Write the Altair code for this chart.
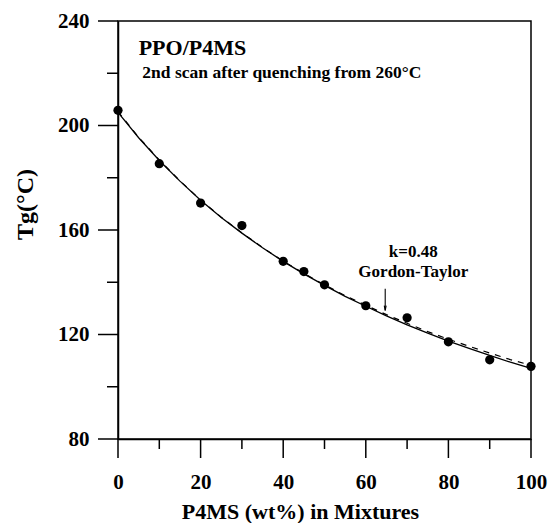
import altair as alt
import pandas as pd

# measured data points
p4ms_wt = [0, 10, 20, 30, 40, 45, 50, 60, 70, 80, 90, 100]
tg_measured = [205.8, 185.4, 170.3, 161.7, 148.0, 144.1, 139.0, 131.0, 126.4, 117.2, 110.3, 107.8]

# curves (solid fit and dashed Gordon-Taylor)
curve_x = [0, 5, 10, 15, 20, 25, 30, 35, 40, 45, 50, 55, 60, 65, 70, 75, 80, 85, 90, 95, 100]
curve_solid = [205.0, 195.3, 186.6, 178.7, 171.4, 164.8, 158.8, 153.2, 148.0, 143.2, 138.8,
               134.6, 130.8, 127.1, 123.7, 120.5, 117.5, 114.7, 112.0, 109.4, 107.0]
curve_dashed = [205.3, 195.5, 186.8, 178.8, 171.5, 164.9, 158.9, 153.3, 148.1, 143.4, 139.0,
                134.9, 131.2, 127.6, 124.3, 121.1, 118.2, 115.5, 112.9, 110.4, 108.2]

# axis ticks
x_major = [0, 20, 40, 60, 80, 100]
x_minor = [10, 30, 50, 70, 90]
y_major = [80, 120, 160, 200, 240]
y_minor = [100, 140, 180, 220]

# annotations
left_text = ["PPO/P4MS", "2nd scan after quenching from 260°C"]
left_x = [5.0, 5.9]
left_y = [226.9, 218.0]
left_size = [22, 17.5]
center_text = ["k=0.48", "Gordon-Taylor"]
center_x = [71.5, 71.5]
center_y = [149.6, 141.9]
center_size = [17, 17]
arrow_x = [64.7]
arrow_top = [137.5]
arrow_tip = [129.2]

FONT = "Liberation Serif"

pts = pd.DataFrame({"x": p4ms_wt, "y": tg_measured})
curve = pd.DataFrame({"x": curve_x, "solid": curve_solid, "dashed": curve_dashed})
ann_l = pd.DataFrame({"t": left_text, "x": left_x, "y": left_y, "s": left_size})
ann_c = pd.DataFrame({"t": center_text, "x": center_x, "y": center_y, "s": center_size})
arrow = pd.DataFrame({"x": arrow_x, "y": arrow_top, "y2": arrow_tip})
xmaj_df = pd.DataFrame({"x": x_major})
ymaj_df = pd.DataFrame({"y": y_major})
xmin_df = pd.DataFrame({"x": x_minor})
ymin_df = pd.DataFrame({"y": y_minor})

xscale = alt.Scale(domain=[0, 100], nice=False)
yscale = alt.Scale(domain=[80, 240], nice=False)

X = lambda f: alt.X(f, scale=xscale)
Y = lambda f: alt.Y(f, scale=yscale)

points = alt.Chart(pts).mark_circle(size=85, color="black", opacity=1).encode(
    x=alt.X("x:Q", scale=xscale,
            axis=alt.Axis(values=x_major, title="P4MS (wt%) in Mixtures",
                          ticks=False, tickSize=0, labelPadding=32)),
    y=alt.Y("y:Q", scale=yscale,
            axis=alt.Axis(values=y_major, title="Tg(°C)", ticks=False, tickSize=0,
                          labelPadding=29, labelAlign="right", labelBaseline="middle")),
)

solid = alt.Chart(curve).mark_line(color="black", strokeWidth=1.3).encode(
    x=X("x:Q"), y=Y("solid:Q"),
)

dashed = alt.Chart(curve).mark_line(color="black", strokeWidth=1.2, strokeDash=[6, 6]).encode(
    x=X("x:Q"), y=Y("dashed:Q"),
)

# outward tick marks (major and minor) drawn at the axis tick values
x_major_ticks = alt.Chart(xmaj_df).mark_rule(color="black", strokeWidth=1.5).encode(
    x=X("x:Q"), y=alt.value(418), y2=alt.value(437),
)
y_major_ticks = alt.Chart(ymaj_df).mark_rule(color="black", strokeWidth=1.5).encode(
    y=Y("y:Q"), x=alt.value(0), x2=alt.value(-20),
)
x_minor_ticks = alt.Chart(xmin_df).mark_rule(color="black", strokeWidth=1.5).encode(
    x=X("x:Q"), y=alt.value(418), y2=alt.value(428),
)
y_minor_ticks = alt.Chart(ymin_df).mark_rule(color="black", strokeWidth=1.5).encode(
    y=Y("y:Q"), x=alt.value(0), x2=alt.value(-11),
)

texts_l = alt.Chart(ann_l).mark_text(font=FONT, fontWeight="bold", color="black",
                                     baseline="alphabetic", align="left").encode(
    x=X("x:Q"), y=Y("y:Q"), text="t:N",
    size=alt.Size("s:Q", scale=None, legend=None),
)
texts_c = alt.Chart(ann_c).mark_text(font=FONT, fontWeight="bold", color="black",
                                     baseline="alphabetic", align="center").encode(
    x=X("x:Q"), y=Y("y:Q"), text="t:N",
    size=alt.Size("s:Q", scale=None, legend=None),
)

arrow_line = alt.Chart(arrow).mark_rule(color="black", strokeWidth=1.1).encode(
    x=X("x:Q"), y=Y("y:Q"), y2="y2:Q",
)
arrow_head = alt.Chart(arrow).mark_point(
    shape="M -0.35 -1.8 L 0 0 L 0.35 -1.8", filled=False, color="black", strokeWidth=1.1,
    size=30, opacity=1).encode(
    x=X("x:Q"), y=Y("y2:Q"),
)

chart = alt.layer(
    points, solid, dashed, x_major_ticks, y_major_ticks, x_minor_ticks, y_minor_ticks,
    texts_l, texts_c, arrow_line, arrow_head
).properties(
    width=413, height=418,
    autosize=alt.AutoSizeParams(type="none"),
    padding={"left": 118, "top": 21, "right": 19, "bottom": 84},
    background="white",
).configure_view(
    stroke="black", strokeWidth=1.5
).configure_axis(
    grid=False, domainColor="black", domainWidth=1.5,
    labelFont=FONT, labelFontSize=21, labelFontWeight="bold", labelColor="black",
    labelFlush=False, titleFont=FONT, titleFontWeight="bold", titleColor="black",
).configure_axisX(
    titleFontSize=22, titleX=182, titleY=79,
    titleAlign="center", titleBaseline="alphabetic",
).configure_axisY(
    titleFontSize=24, titleX=-93, titleY=183,
    titleAngle=-90, titleAlign="center", titleBaseline="middle",
)

chart.save("out.html", embed_options={"renderer": "svg", "actions": False})
